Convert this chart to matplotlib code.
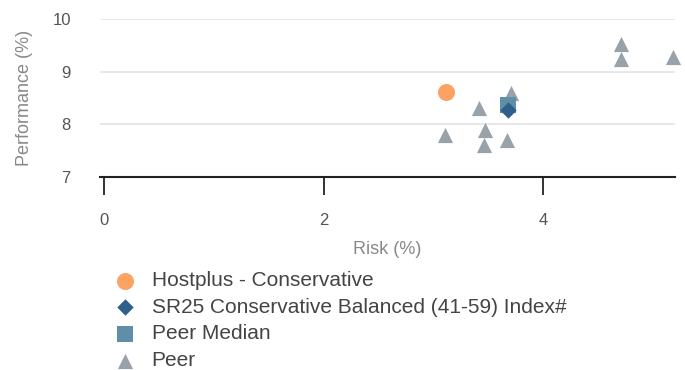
import matplotlib
matplotlib.use("Agg")
import matplotlib.pyplot as plt

plt.rcParams['font.family'] = ['Liberation Sans', 'DejaVu Sans']

# Risk / performance data (%)
fund_name = "Hostplus - Conservative"
fund_risk = [3.12]
fund_perf = [8.62]

index_name = "SR25 Conservative Balanced (41-59) Index#"
index_risk = [3.68]
index_perf = [8.27]

median_name = "Peer Median"
median_risk = [3.68]
median_perf = [8.36]

peer_name = "Peer"
peer_risk = [3.11, 3.42, 3.71, 3.47, 3.46, 3.67, 4.71, 4.71, 5.18]
peer_perf = [7.80, 8.31, 8.60, 7.89, 7.61, 7.70, 9.53, 9.24, 9.28]

x_ticks = [0, 2, 4]
y_ticks = [7, 8, 9, 10]

fig = plt.figure(figsize=(6.85, 3.7), dpi=100)
ax = fig.add_axes([100 / 685, (370 - 177) / 370, 575 / 685, 158 / 370])

ax.scatter(peer_risk, peer_perf, marker='^', s=120, color='#9aa2a9', label=peer_name,
           zorder=3, clip_on=False, linewidths=0)
ax.scatter(median_risk, median_perf, marker='s', s=140, color='#5f8ea8', label=median_name,
           zorder=4, clip_on=False, linewidths=0)
ax.scatter(index_risk, index_perf, marker='D', s=70, color='#2f5f8a', label=index_name,
           zorder=5, clip_on=False, linewidths=0)
ax.scatter(fund_risk, fund_perf, marker='o', s=150, color='#fca262', label=fund_name,
           zorder=6, clip_on=False, linewidths=0)

ax.set_xlim(-4 / 109, 571 / 109 - 4 / 109)
ax.set_ylim(7, 10)
ax.set_xticks(x_ticks)
ax.set_yticks(y_ticks)

for s in ['top', 'right', 'left']:
    ax.spines[s].set_visible(False)
ax.spines['bottom'].set_color('#222222')
ax.spines['bottom'].set_linewidth(1.5)

ax.grid(axis='y', color='#e4e4e4', linewidth=1.2, zorder=0)
ax.set_axisbelow(True)

ax.tick_params(axis='x', length=13, width=1.3, color='#222222', pad=13,
               labelsize=12, labelcolor='#555555', direction='out')
ax.tick_params(axis='y', length=0, pad=21, labelsize=12, labelcolor='#555555')

ax.set_xlabel("Risk (%)", fontsize=13, color='#888888', labelpad=9)
ax.set_ylabel("Performance (%)", fontsize=13, color='#888888', labelpad=14)

handles, labels = ax.get_legend_handles_labels()
order = [3, 2, 1, 0]
leg = fig.legend([handles[i] for i in order], [labels[i] for i in order],
                 loc='upper left', bbox_to_anchor=(113 / 685, 1 - 271 / 370),
                 frameon=False, fontsize=15, labelspacing=0.37,
                 handletextpad=0.65, handlelength=1.2, borderpad=0,
                 borderaxespad=0)
for t in leg.get_texts():
    t.set_color('#444444')

fig.savefig("out.png", dpi=100)
